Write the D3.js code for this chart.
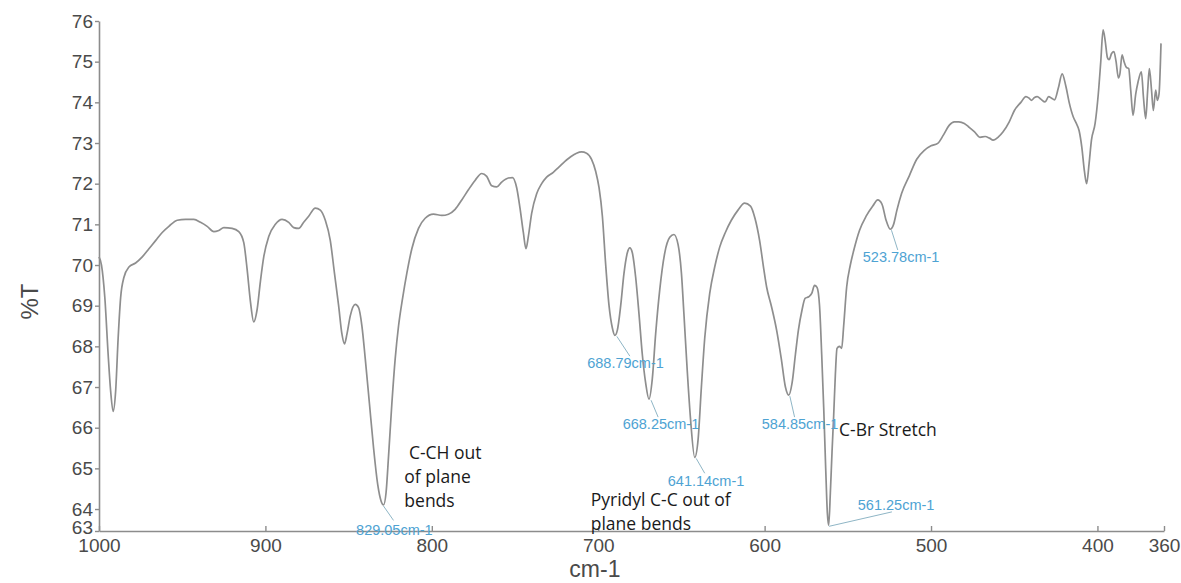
<!DOCTYPE html>
<html>
<head>
<meta charset="utf-8">
<script src="https://cdn.jsdelivr.net/npm/d3@7"></script>
<style>
  html, body { margin: 0; padding: 0; background: #fff; }
  svg { display: block; }
</style>
</head>
<body>
<svg id="chart" width="1181" height="583"></svg>
<script>
// ---- Data ----
const wavenumbers = [
  1000, 998.5, 996.5, 994.5, 993, 991.5, 990, 988.5, 987, 985, 982, 978, 974, 970, 966, 962, 958, 953, 948, 943,
  939, 935, 931, 928, 925, 920, 916, 913, 911, 909, 907, 905, 903, 901, 898, 894, 890, 886, 883, 880,
  877, 874, 870, 867, 864, 861, 858.5, 856, 854, 852.5, 851, 849, 846, 844, 842, 840, 837.5, 835, 832.5, 830.5,
  829, 827.5, 826, 824, 822, 820, 817.5, 815, 812, 808, 804, 799, 794, 790, 786, 782, 778, 774, 770, 767,
  764, 761, 758, 754, 751.5, 749, 747, 745, 743.4, 742, 740, 737, 734, 731, 727, 723.8, 720, 716.9, 713, 710,
  707, 704, 701.5, 699.5, 697.5, 695.5, 693.5, 691.5, 690, 688.5, 686.5, 684.5, 682.5, 681, 679.5, 677.5, 675.5, 673.5, 671.5, 669.5,
  667.5, 665.5, 663, 660, 657, 654.5, 652, 650, 648.5, 646.5, 644.5, 642, 640, 638, 636, 633, 630, 627, 623.6, 620,
  616, 612, 608.5, 605.8, 603, 600.5, 598.8, 596, 592.8, 590, 587.5, 585.5, 583.5, 581.5, 579.7, 577.5, 575.7, 573.5, 571.7, 570,
  568.5, 567, 565.7, 564.5, 563.3, 562.3, 561.5, 560.5, 559.5, 558.5, 557.5, 556.5, 555, 553.7, 552.5, 550.7, 548.5, 546.5, 543, 539,
  535, 532, 529.5, 527, 524.5, 522.5, 520.5, 517.7, 513, 508.6, 504, 500, 496, 492.5, 489, 486, 483.3, 480, 477.5, 474,
  470.6, 467.5, 464.9, 462.7, 459.5, 456.8, 453, 449.9, 446, 443, 441, 439.6, 437.8, 436.2, 434, 431.5, 429.3, 427.5, 425.8, 423.5,
  421.2, 419, 417, 414.5, 412.9, 411, 409.4, 407.8, 406.5, 405, 403.6, 401.4, 399.5, 398, 396.6, 395.3, 394, 393, 391.5, 390.1,
  388.8, 387.4, 386.5, 385.2, 384, 382.6, 381.2, 380, 378.6, 377, 375.6, 373.6, 372.3, 371, 369.8, 368.8, 367.5, 366.4, 365, 364,
  363, 361.8
];
const transmittance = [
  70.2, 70.0, 69.2, 67.8, 66.9, 66.4, 66.9, 68.2, 69.2, 69.7, 69.95, 70.05, 70.2, 70.4, 70.6, 70.8, 70.95, 71.1, 71.12, 71.12,
  71.05, 70.95, 70.82, 70.85, 70.92, 70.9, 70.82, 70.55, 69.9, 69.1, 68.6, 68.9, 69.6, 70.2, 70.7, 71.0, 71.12, 71.05, 70.92, 70.9,
  71.05, 71.2, 71.4, 71.35, 71.1, 70.6, 69.8, 69.0, 68.3, 68.06, 68.3, 68.75, 69.03, 68.95, 68.5, 67.7, 66.6, 65.5, 64.6, 64.2,
  64.1, 64.4, 65.3, 66.6, 67.7, 68.5, 69.2, 69.8, 70.4, 70.9, 71.15, 71.25, 71.22, 71.25, 71.37, 71.6, 71.85, 72.08, 72.25, 72.18,
  71.95, 71.92, 72.04, 72.14, 72.15, 71.9, 71.4, 70.8, 70.4, 70.7, 71.27, 71.75, 72.0, 72.16, 72.28, 72.4, 72.55, 72.65, 72.75, 72.78,
  72.75, 72.6, 72.3, 71.9, 71.2, 70.0, 69.0, 68.45, 68.27, 68.4, 69.0, 69.8, 70.3, 70.42, 70.3, 69.7, 68.8, 67.8, 67.1, 66.7,
  67.2, 68.3, 69.4, 70.3, 70.68, 70.75, 70.5, 69.8, 68.8, 67.4, 66.2, 65.27, 65.7, 67.0, 68.2, 69.3, 69.95, 70.44, 70.8, 71.1,
  71.35, 71.52, 71.45, 71.15, 70.6, 69.9, 69.46, 69.0, 68.4, 67.7, 67.0, 66.8, 67.1, 67.8, 68.4, 68.9, 69.18, 69.22, 69.3, 69.5,
  69.45, 69.0, 67.8, 66.5, 65.0, 63.9, 63.6, 64.4, 65.4, 66.3, 67.3, 67.95, 68.0, 67.95, 68.5, 69.46, 70.0, 70.35, 70.85, 71.2,
  71.45, 71.6, 71.5, 71.1, 70.88, 71.0, 71.35, 71.76, 72.2, 72.6, 72.82, 72.93, 72.99, 73.2, 73.44, 73.52, 73.52, 73.48, 73.4, 73.28,
  73.14, 73.16, 73.12, 73.07, 73.15, 73.27, 73.52, 73.8, 74.0, 74.14, 74.1, 74.05, 74.12, 74.14, 74.08, 74.01, 74.14, 74.1, 74.06, 74.35,
  74.7, 74.4, 74.0, 73.64, 73.5, 73.3, 72.9, 72.3, 72.0, 72.5, 73.07, 73.48, 74.2, 75.0, 75.78, 75.5, 75.1, 75.05, 75.2, 75.25,
  75.0, 74.6, 74.7, 75.17, 75.0, 74.86, 74.83, 74.3, 73.68, 74.2, 74.5, 74.75, 74.1, 73.6, 74.3, 74.83, 74.3, 73.8, 74.3, 74.05,
  74.2, 75.45
];

const xTickValues = [1000, 900, 800, 700, 600, 500, 400, 360];
const xTickLabels = ["1000", "900", "800", "700", "600", "500", "400", "360"];
const yTickValues = [63.46, 64, 65, 66, 67, 68, 69, 70, 71, 72, 73, 74, 75, 76];
const yTickLabels = ["63", "64", "65", "66", "67", "68", "69", "70", "71", "72", "73", "74", "75", "76"];

// peak annotations: marked minimum (wavenumber, %T) and its label
const peakWavenumbers = [829.05, 688.79, 668.25, 641.14, 584.85, 561.25, 523.78];
const peakValues      = [64.1, 68.27, 66.7, 65.27, 66.8, 63.6, 70.88];
const peakLabels      = ["829.05cm-1", "688.79cm-1", "668.25cm-1", "641.14cm-1", "584.85cm-1", "561.25cm-1", "523.78cm-1"];
// where each leader line ends (wavenumber, %T)
const leaderEndWn     = [823, 681, 664, 636, 582, 523.5, 520];
const leaderEndT      = [63.72, 67.76, 66.26, 64.88, 66.26, 63.93, 70.37];
// where each label text is centred (wavenumber, %T)
const peakLabelWn     = [822.5, 683.6, 662.3, 635.2, 578.7, 521.0, 518.0];
const peakLabelT      = [63.48, 67.59, 66.09, 64.69, 66.09, 64.1, 70.2];

const assignmentLines = [
  [" C-CH out", "of plane", "bends"],
  ["Pyridyl C-C out of", "plane bends"],
  ["C-Br Stretch"]
];
const assignmentWn = [816.5, 704.5, 555.3];
const assignmentT  = [65.23, 64.08, 65.8];

// ---- Layout ----
const svg = d3.select("#chart");
const x = d3.scaleLinear().domain([1000, 360]).range([99, 1164]);
const y = d3.scaleLinear().domain([63.46, 76]).range([531, 21]);

const axisColor = "#8c8c8c";
const textColor = "#4a4a4a";

// X axis (ticks pointing inward)
const xAxis = svg.append("g").attr("transform", `translate(0,${y(63.46)})`)
  .call(d3.axisBottom(x).tickValues(xTickValues)
    .tickFormat((d, i) => xTickLabels[i]).tickSizeInner(-5).tickSizeOuter(0).tickPadding(11));
xAxis.select(".domain").attr("stroke", axisColor).attr("stroke-width", 1.6);
xAxis.selectAll(".tick line").attr("stroke", axisColor).attr("stroke-width", 1.4);
xAxis.selectAll(".tick text").attr("fill", textColor)
  .style("font-family", "'Liberation Sans', Arial, sans-serif").style("font-size", "19px")
  .attr("dy", "0.55em");

// Y axis
const yAxis = svg.append("g").attr("transform", `translate(${x(1000)},0)`)
  .call(d3.axisLeft(y).tickValues(yTickValues)
    .tickFormat((d, i) => yTickLabels[i]).tickSizeInner(4).tickSizeOuter(0).tickPadding(2));
yAxis.select(".domain").attr("stroke", axisColor).attr("stroke-width", 1.6);
yAxis.selectAll(".tick line").attr("stroke", axisColor).attr("stroke-width", 1.4);
yAxis.selectAll(".tick text").attr("fill", textColor)
  .style("font-family", "'Liberation Sans', Arial, sans-serif").style("font-size", "19px");
yAxis.selectAll(".tick").filter(d => d === 63.46).select("text").attr("dy", "0.15em");

// Axis titles
svg.append("text")
  .attr("transform", `translate(38,${y(69.1)}) rotate(-90)`)
  .attr("text-anchor", "middle")
  .attr("fill", textColor)
  .style("font-family", "'Liberation Sans', Arial, sans-serif").style("font-size", "24px")
  .text("%T");
svg.append("text")
  .attr("x", x(702)).attr("y", 577)
  .attr("text-anchor", "middle")
  .attr("fill", textColor)
  .style("font-family", "'Liberation Sans', Arial, sans-serif").style("font-size", "23px")
  .text("cm-1");

// Spectrum
const data = wavenumbers.map((w, i) => ({ w, t: transmittance[i] }));
const line = d3.line().x(d => x(d.w)).y(d => y(d.t)).curve(d3.curveMonotoneX);
svg.append("path").datum(data)
  .attr("d", line)
  .attr("fill", "none")
  .attr("stroke", "#8e8e8e")
  .attr("stroke-width", 1.7)
  .attr("stroke-linejoin", "round");

// Peak labels with leader lines
const peaks = peakWavenumbers.map((w, i) => ({
  w, t: peakValues[i], label: peakLabels[i],
  ew: leaderEndWn[i], et: leaderEndT[i],
  lw: peakLabelWn[i], lt: peakLabelT[i]
}));
const pg = svg.append("g");
pg.selectAll("line").data(peaks).enter().append("line")
  .attr("x1", d => x(d.w)).attr("y1", d => y(d.t) + 1)
  .attr("x2", d => x(d.ew)).attr("y2", d => y(d.et))
  .attr("stroke", "#8fb6c6").attr("stroke-width", 1);
pg.selectAll("text").data(peaks).enter().append("text")
  .attr("x", d => x(d.lw)).attr("y", d => y(d.lt))
  .attr("text-anchor", "middle")
  .attr("dy", "0.35em")
  .attr("fill", "#4ea3d3")
  .style("font-family", "'Liberation Sans', Arial, sans-serif").style("font-size", "14.5px")
  .text(d => d.label);

// Assignment annotations
assignmentLines.forEach((lines, i) => {
  const t = svg.append("text")
    .attr("x", x(assignmentWn[i])).attr("y", y(assignmentT[i]))
    .attr("fill", "#1a1a1a")
    .style("font-family", "'Open Sans', 'Noto Sans', sans-serif").style("font-size", "17.5px")
    .style("white-space", "pre")
    .attr("xml:space", "preserve");
  lines.forEach((s, j) => {
    t.append("tspan").attr("x", x(assignmentWn[i])).attr("dy", j === 0 ? 0 : 24).text(s);
  });
});
</script>
</body>
</html>
